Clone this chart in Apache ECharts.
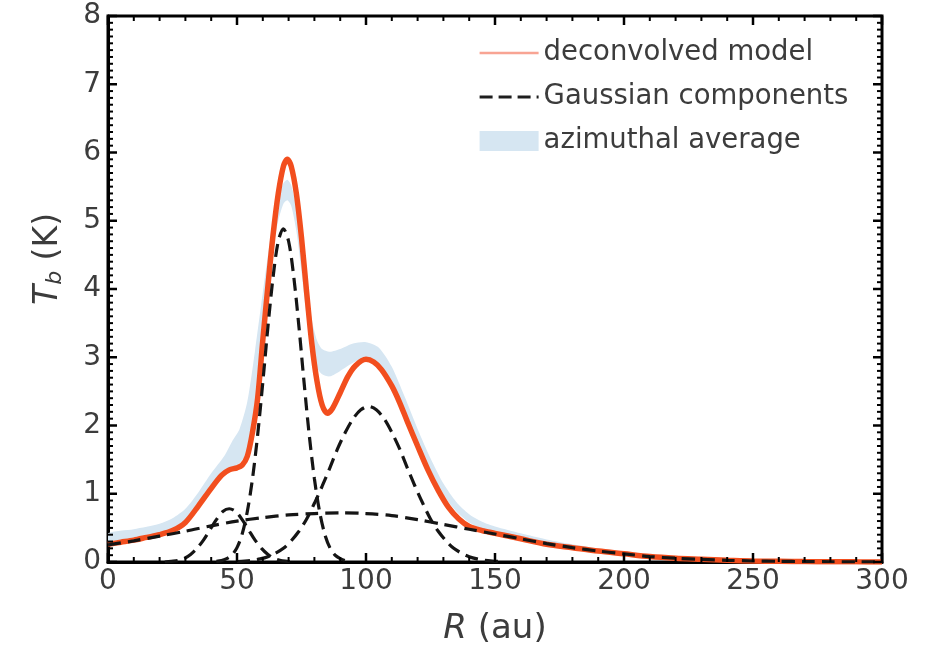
<!DOCTYPE html>
<html><head><meta charset="utf-8">
<script src="https://cdn.jsdelivr.net/npm/echarts@6/dist/echarts.min.js"></script>
<style>html,body{margin:0;padding:0;background:#fff}#c{width:930px;height:656px}</style>
</head><body><div id="c"></div>
<script>
// deconvolved model (red)
const modelR = [0,5,10,15,20,25,30,35,40,44,47,50,52,54,56,58,60,62,64,66,68,69.5,71,73,75,77,79,81,83,85,87,90,93,96,100,103,106,110,113,116,120,124,128,132,136,140,145,150,160,170,180,190,200,210,220,230,240,250,260,270,280,290,300];
const modelT = [0.26,0.29,0.32,0.36,0.40,0.46,0.58,0.82,1.08,1.27,1.35,1.38,1.42,1.55,1.90,2.40,3.25,4.05,4.80,5.40,5.80,5.90,5.80,5.40,4.75,3.95,3.20,2.65,2.30,2.18,2.25,2.48,2.72,2.88,2.97,2.93,2.82,2.58,2.34,2.06,1.70,1.35,1.05,0.80,0.63,0.52,0.46,0.42,0.34,0.26,0.21,0.16,0.12,0.08,0.055,0.04,0.025,0.015,0.01,0.006,0.004,0.002,0.001];
// azimuthal average band (lower / upper)
const avgR = [0,10,20,25,30,35,40,45,48,51,54,57,60,62,64,66,68,69.5,71,73,75,77,79,81,83,86,90,95,100,105,110,115,120,125,130,135,140,145,150,160,170,180,190,200,210,220,230,240,250,260,270,280,290,300];
const avgLow = [0.26,0.32,0.40,0.46,0.58,0.80,1.05,1.28,1.36,1.45,1.60,2.15,3.20,3.95,4.60,5.00,5.25,5.30,5.22,4.85,4.25,3.60,3.10,2.85,2.75,2.72,2.80,2.92,2.98,2.88,2.60,2.18,1.72,1.32,0.98,0.74,0.58,0.49,0.43,0.34,0.27,0.21,0.16,0.12,0.085,0.06,0.04,0.025,0.015,0.01,0.005,0.003,0.002,0.001];
const avgHigh = [0.42,0.48,0.56,0.64,0.78,1.02,1.30,1.55,1.76,1.95,2.35,3.10,3.95,4.50,5.00,5.35,5.55,5.60,5.52,5.20,4.65,4.05,3.55,3.25,3.12,3.08,3.12,3.20,3.22,3.14,2.86,2.42,1.95,1.52,1.15,0.88,0.70,0.59,0.52,0.42,0.33,0.26,0.20,0.15,0.11,0.08,0.06,0.04,0.025,0.015,0.01,0.006,0.004,0.002];
// Gaussian components (dashed)
const g1R = [22,24.5,27,29.5,32,34.5,37,39.5,42,44.5,47,49.5,52,54.5,57,59.5,62,64.5,67,69.5,72];
const g1T = [0.00,0.01,0.02,0.05,0.11,0.20,0.32,0.47,0.62,0.74,0.78,0.74,0.62,0.47,0.32,0.20,0.11,0.05,0.02,0.01,0.00];
const g2R = [42,44,46,48,50,52,54,56,58,60,62,64,66,68,70,72,74,76,78,80,82,84,86,88,90,92,94];
const g2T = [0.01,0.02,0.05,0.10,0.21,0.41,0.74,1.22,1.86,2.63,3.45,4.18,4.70,4.88,4.70,4.18,3.45,2.63,1.86,1.22,0.74,0.41,0.21,0.10,0.05,0.02,0.01];
const g3R = [50,53,56,59,62,65,68,71,74,77,80,83,86,89,92,95,98,101,104,107,110,113,116,119,122,125,128,131,134,137,140,143,146,149,152];
const g3T = [0.007,0.014,0.025,0.045,0.078,0.13,0.20,0.31,0.45,0.63,0.86,1.11,1.38,1.66,1.90,2.10,2.23,2.28,2.23,2.10,1.90,1.66,1.38,1.11,0.86,0.63,0.45,0.31,0.20,0.13,0.078,0.045,0.025,0.014,0.007];
const g4R = [0,10,20,30,40,50,60,70,80,90,100,110,120,130,140,150,160,170,180,190,200,210,220,230,240,250,260,270,280,290,300];
const g4T = [0.25,0.31,0.38,0.45,0.53,0.60,0.65,0.69,0.71,0.72,0.71,0.68,0.62,0.55,0.48,0.41,0.34,0.27,0.21,0.16,0.12,0.08,0.055,0.04,0.025,0.015,0.01,0.006,0.004,0.002,0.001];
// tick positions (major ticks carry labels)
const xMajorTicks = [0,50,100,150,200,250,300];
const yMajorTicks = [0,1,2,3,4,5,6,7,8];
const xMinorStep = 10;
const yMinorStep = 0.1;

const pairs = (xs, ys) => xs.map((x, i) => [x, ys[i]]);
const FONT = 'DejaVu Sans';
const TXT = '#3c3c3c';
const BLUE = '#d6e6f2';

const dashStyle = {color: '#151515', width: 3.2, type: [13, 7]};
function gauss(xs, ys) {
  return {name: 'Gaussian components', type: 'line', data: pairs(xs, ys), symbol: 'none', smooth: 0.3,
          lineStyle: dashStyle, itemStyle: {color: '#151515'}, z: 5, silent: true};
}

// minor tick values between the first and last major tick
function minorValues(majors, step) {
  const out = [];
  const lo = majors[0], hi = majors[majors.length - 1];
  const n = Math.round((hi - lo) / step);
  for (let k = 0; k <= n; k++) {
    const v = lo + k * step;
    if (!majors.some(m => Math.abs(m - v) < step / 10)) out.push(v);
  }
  return out;
}
const xMinorTicks = minorValues(xMajorTicks, xMinorStep);
const yMinorTicks = minorValues(yMajorTicks, yMinorStep);

const chart = echarts.init(document.getElementById('c'), null, {renderer: 'canvas'});
chart.setOption({
  animation: false,
  backgroundColor: '#fff',
  grid: {left: 108, right: 48, top: 16, bottom: 94, show: true, borderColor: '#000', borderWidth: 3,
         backgroundColor: 'transparent'},
  legend: {
    orient: 'vertical', left: 478, top: 39, padding: 0, itemWidth: 59, itemHeight: 20, itemGap: 16,
    selectedMode: false,
    textStyle: {fontSize: 27.5, color: TXT, fontFamily: FONT},
    data: [
      {name: 'deconvolved model', itemStyle: {opacity: 0}, lineStyle: {color: '#f8a493', width: 2.5}},
      {name: 'Gaussian components', itemStyle: {opacity: 0}, lineStyle: {color: '#1e1e1e', width: 3.2, type: [13, 6]}},
      {name: 'azimuthal average', icon: 'rect', itemStyle: {color: BLUE, opacity: 1}}
    ]
  },
  xAxis: {
    type: 'value', min: 0, max: 300, interval: 50, position: 'bottom',
    axisLine: {show: true, lineStyle: {color: '#000', width: 3}},
    axisTick: {show: false}, minorTick: {show: false}, splitLine: {show: false},
    axisLabel: {fontSize: 28, color: TXT, fontFamily: FONT, margin: 6},
    name: '{it|R} (au)', nameLocation: 'middle', nameGap: 50,
    nameTextStyle: {fontSize: 34, color: TXT, fontFamily: FONT,
      rich: {it: {fontStyle: 'italic', fontSize: 34, color: TXT, fontFamily: FONT}}}
  },
  yAxis: {
    type: 'value', min: 0, max: 8, interval: 1, position: 'left',
    axisLine: {show: true, lineStyle: {color: '#000', width: 3}},
    axisTick: {show: false}, minorTick: {show: false}, splitLine: {show: false},
    axisLabel: {fontSize: 28, color: TXT, fontFamily: FONT, margin: 7},
    name: '{it|T}{sub|b} (K)', nameLocation: 'middle', nameGap: 42, nameRotate: 90,
    nameTextStyle: {fontSize: 33, color: TXT, fontFamily: FONT, padding: [0, 0, 0, 60],
      rich: {it: {fontStyle: 'italic', fontSize: 33, color: TXT, fontFamily: FONT},
             sub: {fontStyle: 'italic', fontSize: 22, color: TXT, fontFamily: FONT, padding: [14, 0, 0, 0]}}}
  },
  series: [
    {name: 'azimuthal average', type: 'custom', z: 2, silent: true, clip: true,
     itemStyle: {color: BLUE},
     data: avgR.map((r, i) => [r, avgLow[i], avgHigh[i]]),
     encode: {x: 0, y: [1, 2]},
     renderItem: function (params, api) {
       if (params.dataIndex !== 0) return null;
       const pts = [];
       for (let i = 0; i < avgR.length; i++) pts.push(api.coord([avgR[i], avgHigh[i]]));
       for (let i = avgR.length - 1; i >= 0; i--) pts.push(api.coord([avgR[i], avgLow[i]]));
       return {type: 'polygon', shape: {points: pts, smooth: 0.25}, style: {fill: BLUE}, silent: true};
     }},
    {name: 'deconvolved model', type: 'line', data: pairs(modelR, modelT), symbol: 'none', smooth: 0.3,
     lineStyle: {color: '#f24e1e', width: 5.5}, itemStyle: {color: '#f24e1e'}, z: 4, silent: true},
    gauss(g1R, g1T), gauss(g2R, g2T), gauss(g3R, g3T), gauss(g4R, g4T),
    // inward ticks on all four sides of the frame, placed through the axis scales
    {name: 'frame ticks', type: 'custom', z: 20, silent: true, clip: false,
     data: [[0, 0]], encode: {x: 0, y: 1},
     renderItem: function (params, api) {
       if (params.dataIndex !== 0) return null;
       const kids = [];
       const xMin = xMajorTicks[0], xMax = xMajorTicks[xMajorTicks.length - 1];
       const yMin = yMajorTicks[0], yMax = yMajorTicks[yMajorTicks.length - 1];
       function seg(x1, y1, x2, y2, w) {
         kids.push({type: 'line', shape: {x1: x1, y1: y1, x2: x2, y2: y2},
                    style: {stroke: '#000', lineWidth: w}, silent: true});
       }
       function xTick(v, len, w) {
         const b = api.coord([v, yMin]), t = api.coord([v, yMax]);
         seg(b[0], b[1], b[0], b[1] - len, w);
         seg(t[0], t[1], t[0], t[1] + len, w);
       }
       function yTick(v, len, w) {
         const l = api.coord([xMin, v]), r = api.coord([xMax, v]);
         seg(l[0], l[1], l[0] + len, l[1], w);
         seg(r[0], r[1], r[0] - len, r[1], w);
       }
       xMajorTicks.forEach(v => xTick(v, 9, 2.5));
       xMinorTicks.forEach(v => xTick(v, 5, 2));
       yMajorTicks.forEach(v => yTick(v, 9, 2.5));
       yMinorTicks.forEach(v => yTick(v, 5, 2));
       return {type: 'group', children: kids};
     }}
  ]
});
</script></body></html>
